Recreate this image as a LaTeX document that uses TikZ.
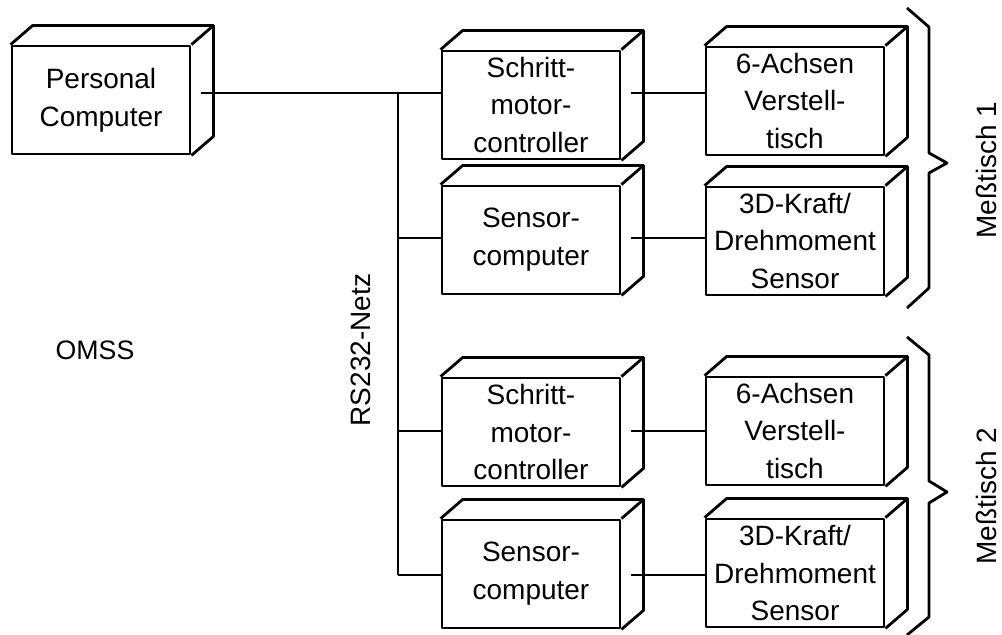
\documentclass[tikz,border=0pt]{standalone}
\usepackage{fontspec}
\setmainfont{Liberation Sans}
\usetikzlibrary{calc}

\begin{document}
\begin{tikzpicture}[x=0.025cm, y=-0.025cm, line width=2pt, line join=round,
    quader/.style={draw, fill=white, align=center, inner sep=0pt,
        minimum width=4.45cm, minimum height=2.7cm,
        font=\fontsize{19.9}{27}\selectfont},
    beschr/.style={font=\fontsize{19.9}{24}\selectfont}]
    \useasboundingbox (0,0) rectangle (1002,635);

    % Rechner und Steuerungen
    \node[quader] (pc) at (101,100) {Personal\\Computer};
    \node[quader] (sm1) at (531,105) {Schritt-\\motor-\\controller};
    \node[quader] (sc1) at (531,240) {Sensor-\\computer};
    \node[quader] (sm2) at (531,432) {Schritt-\\motor-\\controller};
    \node[quader] (sc2) at (531,574) {Sensor-\\computer};

    % Messtische
    \node[quader] (ax1) at (795,101) {6-Achsen\\Verstell-\\tisch};
    \node[quader] (kr1) at (795,241) {3D-Kraft/\\Drehmoment\\Sensor};
    \node[quader] (ax2) at (795,431) {6-Achsen\\Verstell-\\tisch};
    \node[quader] (kr2) at (795,573) {3D-Kraft/\\Drehmoment\\Sensor};

    % Tiefe der Quader
    \foreach \n in {pc,sm1,sc1,sm2,sc2,ax1,kr1,ax2,kr2}
        \draw (\n.north west) -- ++(22,-19)
            -- ([shift={(22,-19)}]\n.north east)
            -- ([shift={(22,-19)}]\n.south east) -- (\n.south east)
            (\n.north east) -- ++(22,-19);

    % RS232-Bus
    \coordinate (b1) at (398,93);
    \coordinate (b2) at (398,238);
    \coordinate (b3) at (398,431);
    \coordinate (b4) at (398,575);
    \draw ($(b1 -| pc.east)+(10,0)$) -- (b1 -| sm1.west);
    \draw (b1) -- (b4);
    \draw (b2) -- (b2 -| sc1.west);
    \draw (b3) -- (b3 -| sm2.west);
    \draw (b4) -- (b4 -| sc2.west);
    \draw ($(b1 -| sm1.east)+(10,0)$) -- (b1 -| ax1.west);
    \draw ($(b2 -| sc1.east)+(10,0)$) -- (b2 -| kr1.west);
    \draw ($(b3 -| sm2.east)+(10,0)$) -- (b3 -| ax2.west);
    \draw ($(b4 -| sc2.east)+(10,0)$) -- (b4 -| kr2.west);

    % Klammern
    \draw (907,8) -- (929,27) -- (929,153) -- (947,163) -- (929,173)
        -- (929,288) -- (907,308);
    \draw (907,337) -- (929,355) -- (929,481) -- (947,492) -- (929,503)
        -- (929,617) -- (907,635);

    \node[beschr, rotate=90] (mt1) at (986,170) {Meßtisch 1};
    \node[beschr, rotate=90] (mt2) at (986,496) {Meßtisch 2};
    \node[beschr, rotate=90] (net) at (361,350) {RS232-Netz};
    \node[font=\fontsize{19}{22}\selectfont] (omss) at (95,350) {OMSS};
\end{tikzpicture}
\end{document}
